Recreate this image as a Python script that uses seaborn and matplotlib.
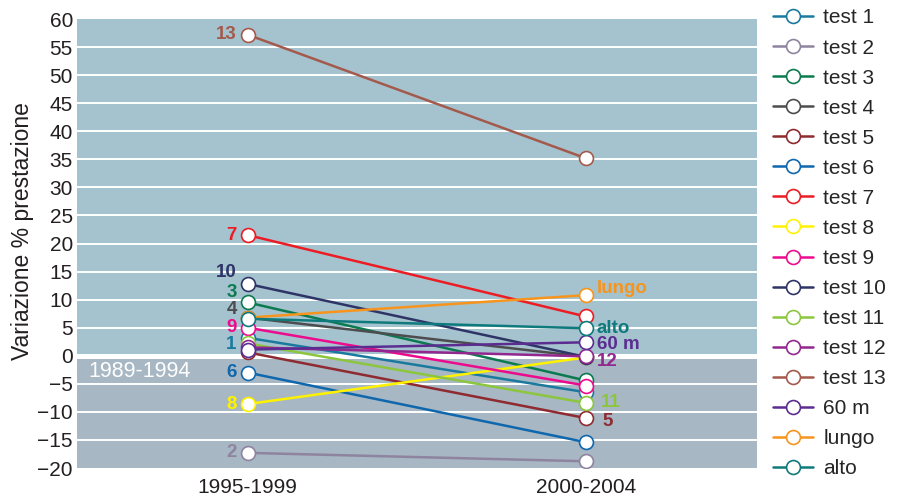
import matplotlib
matplotlib.use("Agg")
import matplotlib.pyplot as plt
import seaborn as sns
import pandas as pd

periods = ["1995-1999", "2000-2004"]
series = ["test 1", "test 2", "test 3", "test 4", "test 5", "test 6", "test 7", "test 8",
          "test 9", "test 10", "test 11", "test 12", "test 13", "60 m", "lungo", "alto"]
val_9599 = [3.2, -17.3, 9.5, 6.8, 0.6, -3.0, 21.5, -8.6, 5.0, 12.8, 2.2, 1.5, 57.2, 1.1, 6.8, 6.6]
val_0004 = [-6.5, -18.8, -4.4, -0.2, -11.1, -15.4, 7.0, -0.3, -5.3, -0.2, -8.4, -0.1, 35.2, 2.4, 10.8, 4.9]
colors = ["#1a7a9e", "#8e84a0", "#0b7a4f", "#4d4d4f", "#8e2a30", "#0f67ad", "#ec1c24", "#fff200",
          "#ec0b8d", "#2e3466", "#8cc63e", "#92278f", "#a35a4c", "#5b2d90", "#f7941d", "#0e7a7c"]

# etichette sui punti: (serie, periodo, testo)
point_labels = [
    ("test 13", 0, "13"), ("test 7", 0, "7"), ("test 10", 0, "10"), ("test 3", 0, "3"),
    ("test 4", 0, "4"), ("test 9", 0, "9"), ("test 1", 0, "1"), ("test 6", 0, "6"),
    ("test 8", 0, "8"), ("test 2", 0, "2"),
    ("lungo", 1, "lungo"), ("alto", 1, "alto"), ("60 m", 1, "60 m"), ("test 12", 1, "12"),
    ("test 11", 1, "11"), ("test 5", 1, "5"),
]
# spostamenti in pixel delle etichette
label_offsets = {"10": (-11, 11), "3": (-11, 10), "4": (-11, 8), "1": (-11, -7),
                 "lungo": (11, 7), "60 m": (11, -2), "12": (11, -5), "11": (15, 0), "5": (17, -3)}

df = pd.DataFrame({
    "serie": series * 2,
    "periodo": [periods[0]] * len(series) + [periods[1]] * len(series),
    "valore": val_9599 + val_0004,
})

sns.set_style("white")
plt.rcParams["font.family"] = ["Liberation Sans", "DejaVu Sans"]

fig = plt.figure(figsize=(8.99, 4.98), dpi=100)
ax = fig.add_axes([0.0857, 0.0602, 0.7564, 0.9016])

ax.axhspan(0, 60, color="#a5c3ce", zorder=0, lw=0)
ax.axhspan(-20, 0, color="#a7b7c4", zorder=0, lw=0)
for y in range(-15, 60, 5):
    ax.axhline(y, color="white", lw=3.6 if y == 0 else 1.4, zorder=1)

sns.lineplot(data=df, x="periodo", y="valore", hue="serie", hue_order=series,
             palette=colors, marker="o", markersize=10, linewidth=1.8,
             legend=False, ax=ax, zorder=3)

for line, c in zip(ax.lines[-len(series):], colors):
    line.set_markerfacecolor("white")
    line.set_markeredgecolor(c)
    line.set_markeredgewidth(1.2)

for name, p, txt in point_labels:
    i = series.index(name)
    yv = val_9599[i] if p == 0 else val_0004[i]
    dx, dy = label_offsets.get(txt, (-11 if p == 0 else 11, 0))
    ax.annotate(txt, (p, yv), xytext=(dx, dy), textcoords="offset pixels",
                ha="right" if p == 0 else "left", va="center",
                fontsize=13.5, fontweight="bold", color=colors[i], zorder=5)

ax.text(0.016, 0.214, "1989-1994", transform=ax.transAxes, color="white",
        fontsize=15.5, va="center", ha="left", zorder=5)

ax.set_xlim(-0.505, 1.507)
ax.set_ylim(-20, 60)
ax.set_yticks(range(-20, 61, 5))
ax.tick_params(axis="both", length=0, labelsize=15, colors="#231f20")
ax.tick_params(axis="y", pad=3)
ax.tick_params(axis="x", pad=7)
ax.set_xlabel("")
ax.set_ylabel("Variazione % prestazione", fontsize=16.5, color="#231f20")
ax.yaxis.set_label_coords(-0.063, 0.528)
for s in ax.spines.values():
    s.set_visible(False)

ax.legend(ax.lines[-len(series):], series, loc="upper left", bbox_to_anchor=(1.011, 1.042),
          frameon=False, fontsize=15, handlelength=1.95, handletextpad=0.48,
          labelspacing=0.53, borderaxespad=0)

fig.savefig("out.png", dpi=100)
